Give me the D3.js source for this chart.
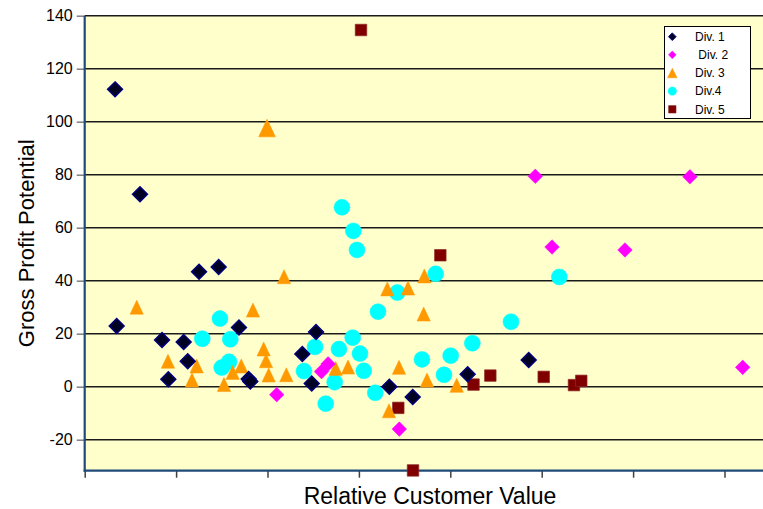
<!DOCTYPE html>
<html>
<head>
<meta charset="utf-8">
<script src="https://cdn.jsdelivr.net/npm/d3@7"></script>
<style>
  html, body { margin: 0; padding: 0; background: #ffffff; }
  svg { display: block; font-family: "Liberation Sans", Arial, sans-serif; }
</style>
</head>
<body>
<svg id="chart" width="763" height="509"></svg>
<script>
// Division data: x = relative customer value, y = gross profit potential
const div1X = [0.332, 0.350, 0.605, 0.846, 0.915, 1.083, 1.127, 1.251, 1.466, 1.688, 1.794, 1.812, 2.381, 2.531, 2.484, 3.333, 3.589, 4.190, 4.858];
const div1Y = [112.2, 22.9, 72.6, 17.6, 2.8, 16.9, 9.6, 43.4, 45.2, 22.3, 2.9, 2.0, 12.3, 20.6, 1.2, 0.0, -3.9, 4.7, 10.1];

const div2X = [2.101, 2.663, 2.591, 3.442, 4.930, 6.622, 5.113, 5.911, 7.199];
const div2Y = [-3.0, 8.6, 5.7, -16.0, 79.4, 79.2, 52.7, 51.6, 7.3];

const div3X = [1.995, 0.569, 2.181, 1.841, 0.911, 1.174, 1.225, 1.524, 1.619, 1.713, 1.958, 1.984, 2.013, 2.206, 2.746, 2.881, 3.311, 3.537, 3.716, 3.709, 3.439, 3.329, 3.745, 4.070];
const div3Y = [97.6, 30.0, 41.5, 28.9, 9.6, 2.5, 7.8, 0.8, 5.4, 7.8, 14.2, 9.8, 4.4, 4.5, 6.9, 7.4, 36.9, 37.2, 41.8, 27.4, 7.3, -9.1, 2.5, 0.5];

const div4X = [1.480, 1.287, 1.593, 1.499, 1.579, 2.399, 2.815, 2.939, 2.979, 3.840, 3.420, 3.209, 2.520, 2.782, 2.932, 3.012, 3.053, 2.735, 2.637, 3.179, 3.690, 4.004, 3.931, 4.241, 4.664, 5.193];
const div4Y = [25.7, 18.1, 17.9, 7.2, 9.4, 5.9, 67.7, 58.8, 51.6, 42.6, 35.5, 28.3, 15.0, 14.2, 18.5, 12.5, 6.0, 1.7, -6.4, -2.3, 10.3, 11.7, 4.5, 16.4, 24.5, 41.4];

const div5X = [3.023, 3.891, 3.431, 3.592, 4.254, 4.438, 5.022, 5.353, 5.433];
const div5Y = [134.6, 49.6, -8.0, -31.6, 0.8, 4.2, 3.7, 0.6, 2.2];

const seriesNames = ["Div. 1", " Div. 2", "Div. 3", "Div.4", "Div. 5"];
const yTicks = [-20, 0, 20, 40, 60, 80, 100, 120, 140];
const xTicks = [0, 1, 2, 3, 4, 5, 6, 7];
const yTitle = "Gross Profit Potential";
const xTitle = "Relative Customer Value";

// ---- layout ----
const W = 763, H = 509;
const plotLeft = 84.7, plotTop = 15.7, plotBottom = 470.7, plotRight = W;
const xStep = 91.4;

const x = d3.scaleLinear().domain([0, 8]).range([plotLeft, plotLeft + 8 * xStep]);
const y = d3.scaleLinear().domain([-31.7, 140]).range([plotBottom, plotTop]);

const svg = d3.select("#chart");
svg.append("rect").attr("width", W).attr("height", H).attr("fill", "#ffffff");

// plot background
svg.append("rect")
  .attr("x", plotLeft).attr("y", plotTop)
  .attr("width", plotRight - plotLeft).attr("height", plotBottom - plotTop)
  .attr("fill", "#FFFFCC");

// horizontal gridlines
svg.append("g").selectAll("line").data(yTicks).join("line")
  .attr("x1", plotLeft).attr("x2", plotRight)
  .attr("y1", d => y(d)).attr("y2", d => y(d))
  .attr("stroke", "#1a1a1a").attr("stroke-width", 1.5);

// y axis: labels + tick marks (plain hyphen for negatives)
const yAxis = svg.append("g")
  .attr("transform", `translate(${plotLeft},0)`)
  .call(d3.axisLeft(y).tickValues(yTicks).tickSize(8).tickPadding(4).tickFormat(d => String(d)));
yAxis.select(".domain").remove();
yAxis.selectAll(".tick line").attr("stroke", "#808080").attr("stroke-width", 1.5);
yAxis.selectAll(".tick text")
  .attr("font-family", "'Liberation Sans', Arial, sans-serif")
  .attr("font-size", 16).attr("fill", "#000");

// x axis: tick marks only
const xAxis = svg.append("g")
  .attr("transform", `translate(0,${plotBottom})`)
  .call(d3.axisBottom(x).tickValues(xTicks).tickSize(7).tickFormat(""));
xAxis.select(".domain").remove();
xAxis.selectAll(".tick line").attr("stroke", "#404040").attr("stroke-width", 1.5);

// axis lines
svg.append("line")
  .attr("x1", plotLeft).attr("x2", plotLeft).attr("y1", plotTop).attr("y2", plotBottom + 1)
  .attr("stroke", "#1F4A7A").attr("stroke-width", 2.2);
svg.append("line")
  .attr("x1", plotLeft - 1).attr("x2", plotRight).attr("y1", plotBottom).attr("y2", plotBottom)
  .attr("stroke", "#1F4A7A").attr("stroke-width", 2.2);

// axis titles
svg.append("text")
  .attr("transform", `translate(${34},${(plotTop + plotBottom) / 2}) rotate(-90)`)
  .attr("text-anchor", "middle")
  .attr("font-size", 22).attr("fill", "#000")
  .text(yTitle);
svg.append("text")
  .attr("x", 430).attr("y", 504)
  .attr("text-anchor", "middle")
  .attr("font-size", 23).attr("fill", "#000")
  .text(xTitle);

// ---- marker shapes ----
function diamondPath(r) { return `M0,${-r}L${r},0L0,${r}L${-r},0Z`; }
function trianglePath(w, h) { return `M0,${-h / 2}L${w / 2},${h / 2}L${-w / 2},${h / 2}Z`; }
function squarePath(s) { return `M${-s / 2},${-s / 2}h${s}v${s}h${-s}Z`; }
function circlePath(r) { return d3.symbol(d3.symbolCircle, Math.PI * r * r)(); }

const styles = [
  { path: diamondPath(7.5), legend: diamondPath(3.8), fill: "#000022", stroke: "#000080", sw: 1.4 },
  { path: diamondPath(7.3), legend: diamondPath(3.8), fill: "#FF00FF", stroke: "#FF00FF", sw: 0.5 },
  { path: trianglePath(13.3, 14), legend: trianglePath(9.5, 9.5), fill: "#FF9900", stroke: "#FF9900", sw: 0.5 },
  { path: circlePath(8), legend: circlePath(4.2), fill: "#00FFFF", stroke: "#00FFFF", sw: 0.5 },
  { path: squarePath(11.5), legend: squarePath(7.5), fill: "#800000", stroke: "#8E2A2A", sw: 0.7 }
];
// the first Div. 3 point carries an enlarged marker
const enlarged = { series: 2, index: 0, scale: 1.25 };

const seriesX = [div1X, div2X, div3X, div4X, div5X];
const seriesY = [div1Y, div2Y, div3Y, div4Y, div5Y];

const plot = svg.append("g");
// later divisions are painted first so Div. 1 ends up on top
[4, 3, 2, 1, 0].forEach(s => {
  const pts = seriesX[s].map((vx, i) => ({ vx, vy: seriesY[s][i], i }));
  plot.append("g").selectAll("path").data(pts).join("path")
    .attr("d", styles[s].path)
    .attr("transform", d => {
      const k = (s === enlarged.series && d.i === enlarged.index) ? enlarged.scale : 1;
      return `translate(${x(d.vx)},${y(d.vy)}) scale(${k})`;
    })
    .attr("fill", styles[s].fill)
    .attr("stroke", styles[s].stroke)
    .attr("stroke-width", styles[s].sw);
});

// ---- legend ----
const lg = svg.append("g");
lg.append("rect")
  .attr("x", 664.5).attr("y", 26.5).attr("width", 86).attr("height", 92)
  .attr("fill", "#ffffff").attr("stroke", "#000").attr("stroke-width", 1);
seriesNames.forEach((name, s) => {
  const cy = 36.7 + s * 18.15;
  lg.append("path")
    .attr("d", styles[s].legend)
    .attr("transform", `translate(672.3,${cy})`)
    .attr("fill", styles[s].fill).attr("stroke", styles[s].stroke).attr("stroke-width", s === 0 ? 1 : 0.5);
  lg.append("text")
    .attr("x", 695).attr("y", cy + 4.3)
    .attr("font-size", 12).attr("fill", "#000")
    .style("white-space", "pre")
    .text(name);
});
</script>
</body>
</html>
